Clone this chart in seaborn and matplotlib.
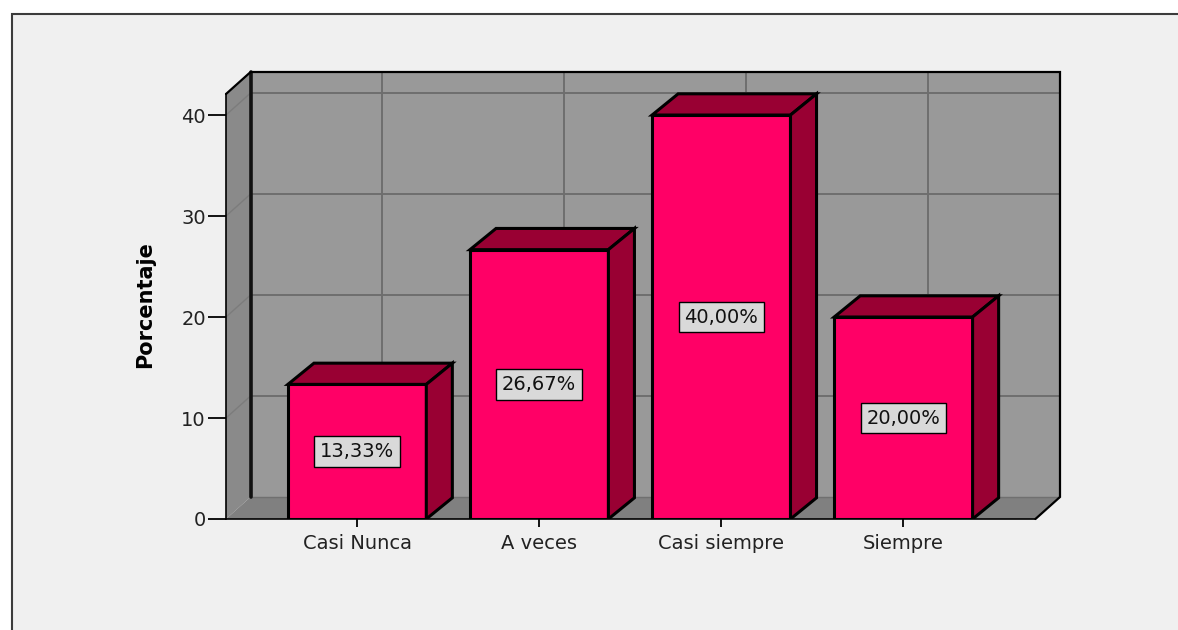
import matplotlib
matplotlib.use("Agg")
import matplotlib.pyplot as plt
import seaborn as sns
import pandas as pd
from matplotlib.patches import Polygon, Rectangle

# Survey results (percentage of respondents per answer)
categories = ["Casi Nunca", "A veces", "Casi siempre", "Siempre"]
percentages = [13.33, 26.67, 40.00, 20.00]
y_ticks = [0, 10, 20, 30, 40]

FRONT = "#ff0066"
SHADE = "#990033"

sns.set_theme(style="white")
plt.rcParams["font.family"] = ["DejaVu Sans"]

W, H = 1178, 630
fig = plt.figure(figsize=(W / 100, H / 100), dpi=100, facecolor="white")

# light grey chart panel with a dark frame
fig.patches.append(Rectangle((12 / W, -0.1), 1.1, 1 - 14 / H + 0.1,
                             transform=fig.transFigure, fc="#f0f0f0",
                             ec="#3c3c3c", lw=1.5, zorder=-5))

ax = fig.add_axes([226 / W, (H - 519) / H, (1060 - 226) / W, (519 - 72) / H])
ax.set_facecolor("none")

df = pd.DataFrame({"Respuesta": categories, "Porcentaje": percentages})
sns.barplot(data=df, x="Respuesta", y="Porcentaje", order=categories,
            color=FRONT, saturation=1, width=0.76, edgecolor="black",
            linewidth=2.2, ax=ax, zorder=3)
bars = list(ax.patches)

# box geometry (oblique projection)
xl, xr = -0.72, 3.86
y_back_top = 44.26
dx, dy = 0.135, 2.18          # wall depth
bdx, bdy = 0.143, 2.1         # bar depth
y_front_top = y_back_top - dy
ax.set_xlim(xl, xr)
ax.set_ylim(0, y_back_top)

# walls and floor
ax.add_patch(Rectangle((xl + dx, dy), xr - (xl + dx), y_back_top - dy,
                       fc="#999999", ec="none", zorder=0))
ax.add_patch(Polygon([(xl, 0), (xl + dx, dy), (xl + dx, y_back_top), (xl, y_front_top)],
                     closed=True, fc="#8a8a8a", ec="none", zorder=0.5))
ax.add_patch(Polygon([(xl, 0), (xr - dx, 0), (xr, dy), (xl + dx, dy)],
                     closed=True, fc="#808080", ec="none", zorder=0.5))

# grid on the back and side walls
for v in y_ticks[1:]:
    ax.plot([xl + dx, xr], [v + dy, v + dy], color="#6e6e6e", lw=1.4, zorder=1)
    ax.plot([xl, xl + dx], [v, v + dy], color="#7c7c7c", lw=1.0, zorder=1)
for i in range(len(categories)):
    ax.plot([i + dx, i + dx], [dy, y_back_top], color="#6e6e6e", lw=1.4, zorder=1)
ax.plot([xl + dx, xr], [dy, dy], color="#707070", lw=1.0, zorder=1)

# box outline
ax.plot([xl + dx, xl + dx], [dy, y_back_top], color="#111111", lw=2.6,
        zorder=1.5, clip_on=False)
ax.plot([xl, xl + dx, xr, xr, xr - dx], [y_front_top, y_back_top, y_back_top, dy, 0],
        color="black", lw=1.6, zorder=1.5, clip_on=False, solid_joinstyle="miter")

# 3D top and side faces of each bar, plus value labels
for p, v in zip(bars, percentages):
    x0, w, h = p.get_x(), p.get_width(), p.get_height()
    top = Polygon([(x0, h), (x0 + bdx, h + bdy), (x0 + w + bdx, h + bdy), (x0 + w, h)],
                  closed=True, fc=SHADE, ec="black", lw=2.2, joinstyle="miter", zorder=3)
    side = Polygon([(x0 + w, 0), (x0 + w + bdx, bdy), (x0 + w + bdx, h + bdy), (x0 + w, h)],
                   closed=True, fc=SHADE, ec="black", lw=2.2, joinstyle="miter", zorder=3)
    ax.add_patch(top)
    ax.add_patch(side)
    label = f"{v:.2f}".replace(".", ",") + "%"
    ax.text(x0 + w / 2, h / 2, label, ha="center", va="center", fontsize=14,
            color="#111111", zorder=5,
            bbox=dict(boxstyle="square,pad=0.3", fc="#d9d9d9", ec="black", lw=1))

# axes
for side_name in ["top", "right"]:
    ax.spines[side_name].set_visible(False)
ax.spines["left"].set_bounds(0, y_front_top)
ax.spines["left"].set_color("black")
ax.spines["left"].set_linewidth(1.2)
ax.spines["bottom"].set_bounds(xl, xr - dx)
ax.spines["bottom"].set_color("black")
ax.spines["bottom"].set_linewidth(1.2)

ax.set_yticks(y_ticks)
ax.set_xticks(range(len(categories)))
ax.set_xticklabels(categories)
ax.tick_params(axis="y", left=True, direction="out", length=13, width=1.3,
               pad=1.5, labelsize=14, colors="black")
ax.tick_params(axis="x", bottom=True, direction="out", length=6, width=1.3,
               pad=5, labelsize=14, colors="black")
for t in ax.get_xticklabels() + ax.get_yticklabels():
    t.set_color("#222222")

ax.set_xlabel("")
ax.set_ylabel("Porcentaje", fontsize=15, fontweight="bold", color="black")
ax.yaxis.label.set_verticalalignment("center")
ax.yaxis.set_label_coords(-0.097, 0.479)

fig.savefig("out.png", dpi=100, facecolor="white")
